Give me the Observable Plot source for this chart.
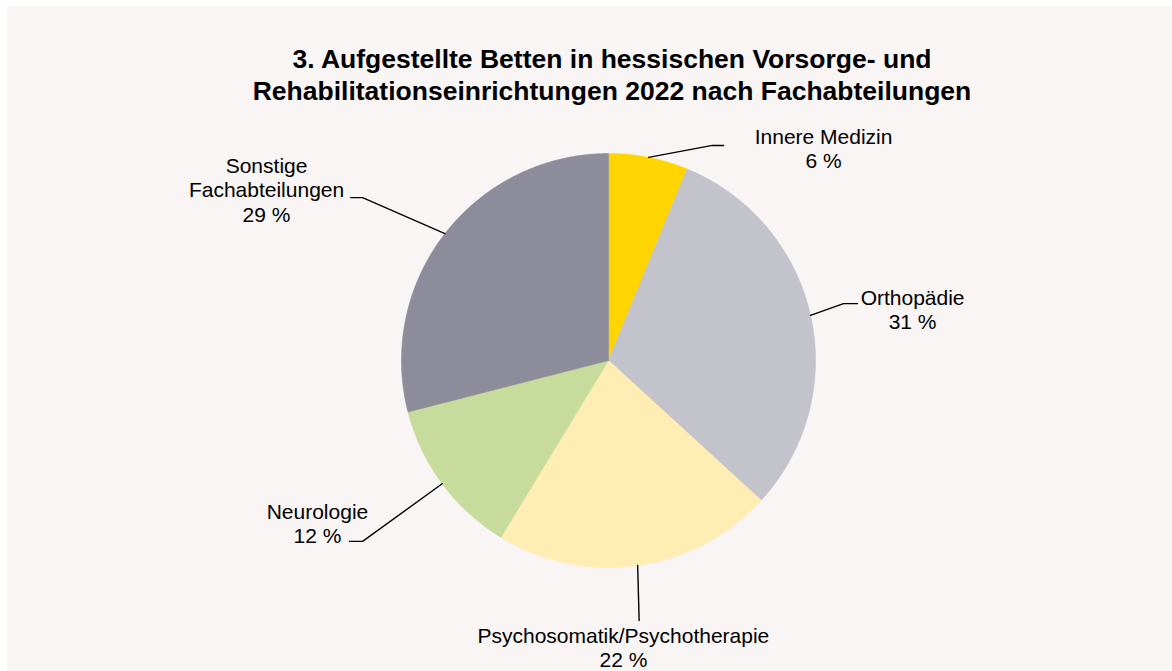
<!DOCTYPE html>
<html><head><meta charset="utf-8">
<script src="https://cdn.jsdelivr.net/npm/d3@7"></script>
<script src="https://cdn.jsdelivr.net/npm/@observablehq/plot@0.6"></script>
<style>
html,body{margin:0;padding:0;background:#fff;}
#frame{position:absolute;left:7px;top:6px;width:1165px;height:665px;background:#f8f5f4;overflow:hidden;font-family:"Liberation Sans",Arial,sans-serif;}
#title{box-sizing:border-box;height:101px;padding-top:36.8px;padding-left:45px;text-align:center;font-weight:bold;font-size:26.5px;line-height:32px;color:#000;}
#chart svg{display:block;}
</style></head><body>
<div id="frame"><div id="title">3. Aufgestellte Betten in hessischen Vorsorge- und<br>Rehabilitationseinrichtungen 2022 nach Fachabteilungen</div><div id="chart"></div></div>
<script>
// data
const categories = ["Innere Medizin", "Orthopädie", "Psychosomatik/Psychotherapie", "Neurologie", "Sonstige Fachabteilungen"];
const labelNames = ["Innere Medizin", "Orthopädie", "Psychosomatik/Psychotherapie", "Neurologie", "Sonstige\nFachabteilungen"];
const shares = [6.2, 30.6, 21.9, 12.3, 29.0];
// styles
const colors = ["#ffd500", "#c3c3cc", "#ffedb3", "#c7dc9c", "#8c8c9b"];
// label layout (in pie-radius units, relative to centre)
const labelPos = [[1.039, 0.928], [1.469, 0.150], [0.072, -1.483], [-1.406, -0.884], [-1.652, 0.671]];
const leaderElbow = [[0.502, 1.039], [1.135, 0.275], [0.148, -1.256], [-1.188, -0.874], [-1.188, 0.787]];
const leaderEnd = [[0.556, 1.039], [1.203, 0.275], [0.148, -1.256], [-1.251, -0.874], [-1.246, 0.787]];

const rows = categories.map((name, i) => ({name, value: shares[i], i}));
const arcs = d3.pie().sort(null).value(d => d.value)(rows);

const slicePts = [];
const leaderPts = [];
arcs.forEach(a => {
  const name = a.data.name;
  slicePts.push({name, x: 0, y: 0});
  const n = Math.max(2, Math.ceil((a.endAngle - a.startAngle) / (Math.PI / 360)));
  for (let k = 0; k <= n; ++k) {
    const t = a.startAngle + (a.endAngle - a.startAngle) * k / n;
    slicePts.push({name, x: Math.sin(t), y: Math.cos(t)});
  }
  slicePts.push({name, x: 0, y: 0});
  const mid = (a.startAngle + a.endAngle) / 2;
  const i = a.data.i;
  leaderPts.push({name, x: Math.sin(mid), y: Math.cos(mid)});
  leaderPts.push({name, x: leaderElbow[i][0], y: leaderElbow[i][1]});
  leaderPts.push({name, x: leaderEnd[i][0], y: leaderEnd[i][1]});
});

const labels = rows.map(r => ({
  x: labelPos[r.i][0], y: labelPos[r.i][1],
  text: `${labelNames[r.i]}\n${Math.round(r.value)} %`
}));

const chart = Plot.plot({
  width: 1165, height: 565,
  x: {domain: [-1, 1], range: [394, 808], axis: null},
  y: {domain: [-1, 1], range: [460, 46], axis: null},
  color: {domain: categories, range: colors},
  style: {background: "transparent", fontFamily: "'Liberation Sans', Arial, sans-serif", overflow: "visible"},
  marks: [
    Plot.line(slicePts, {x: "x", y: "y", z: "name", fill: "name", stroke: "name", strokeWidth: 0.6, curve: "linear"}),
    Plot.line(leaderPts, {x: "x", y: "y", z: "name", stroke: "#000", strokeWidth: 1.4, curve: "linear"}),
    Plot.text(labels, {x: "x", y: "y", text: "text", textAnchor: "middle", lineAnchor: "bottom", lineHeight: 1.16, fontSize: 21, fill: "#000"})
  ]
});
document.getElementById("chart").appendChild(chart);
</script>
</body></html>
